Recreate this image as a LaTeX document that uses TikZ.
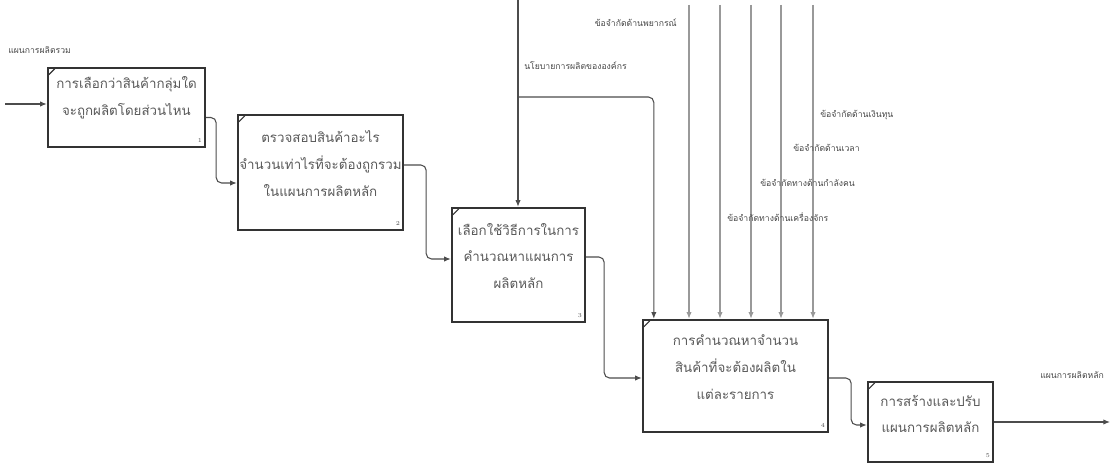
\documentclass[tikz,border=0pt]{standalone}
\usepackage{fontspec}
\newfontfamily\thaifont[Script=Thai]{Loma}
\usetikzlibrary{arrows.meta,calc}

\begin{document}
\begin{tikzpicture}[x=0.75pt,y=-0.75pt,
  every node/.style={font=\thaifont},
  act/.style={draw=black!80,line width=1.8pt,fill=white,inner sep=0pt},
  acttext/.style={align=center,text=black!65,inner sep=0pt,font=\thaifont\fontsize{10}{20}\selectfont},
  lbl/.style={text=black!72,inner sep=0pt,font=\thaifont\fontsize{6.5}{7}\selectfont},
  num/.style={inner sep=0pt,text=black!70,font=\fontsize{4.5}{5}\selectfont},
  cornermark/.style={draw=black!80,line width=0.9pt},
  flow/.style={draw=black!70,line width=0.8pt,rounded corners=4pt,-{Latex[length=5pt,width=4pt]}},
  ctrl/.style={draw=black!40,line width=1.5pt,-{Latex[length=5pt,width=4pt]}}]
  \useasboundingbox (0,0) rectangle (1117,470);

  % activity boxes
  \node[act,minimum width=117.75pt,minimum height=59.25pt] (a1) at (126.5,107.5) {};
  \node[act,minimum width=123.75pt,minimum height=86.25pt] (a2) at (320.5,172.5) {};
  \node[act,minimum width=99.75pt,minimum height=85.5pt] (a3) at (518.5,265) {};
  \node[act,minimum width=138.75pt,minimum height=84pt] (a4) at (735.5,376) {};
  \node[act,minimum width=93.75pt,minimum height=60pt] (a5) at (930.5,422) {};

  \node[acttext] (a1t) at ($(a1)+(0,-10)$) {การเลือกว่าสินค้ากลุ่มใด\\จะถูกผลิตโดยส่วนไหน};
  \node[acttext] (a2t) at ($(a2)+(0,-9)$) {ตรวจสอบสินค้าอะไร\\จำนวนเท่าไรที่จะต้องถูกรวม\\ในแผนการผลิตหลัก};
  \node[acttext] (a3t) at ($(a3)+(0,-9)$) {เลือกใช้วิธีการในการ\\คำนวณหาแผนการ\\ผลิตหลัก};
  \node[acttext] (a4t) at ($(a4)+(0,-9)$) {การคำนวณหาจำนวน\\สินค้าที่จะต้องผลิตใน\\แต่ละรายการ};
  \node[acttext] (a5t) at ($(a5)+(0,-8)$) {การสร้างและปรับ\\แผนการผลิตหลัก};

  \foreach \i in {1,...,5} {
    \node[num,anchor=south east] (n\i) at ($(a\i.south east)+(-4,-5)$) {\i};
    \draw[cornermark] ($(a\i.north west)+(2,8)$) -- ($(a\i.north west)+(8,2)$);
  }

  % input and output
  \coordinate (pin) at (5,104);
  \coordinate (pout) at (1110,422);
  \draw[flow] (pin) -- (pin -| a1.west);
  \node[lbl,anchor=west] (lin) at (8,50) {แผนการผลิตรวม};
  \draw[flow] (a5.east) -- (pout);
  \node[lbl,anchor=west] (lout) at (1040,375) {แผนการผลิตหลัก};

  % links between activities
  \draw[flow] ($(a1.east)+(0,10)$) -- ++(10,0) |- ($(a2.west)+(0,10.5)$);
  \draw[flow] ($(a2.east)+(0,-7.5)$) -- ++(22,0) |- ($(a3.west)+(0,-6)$);
  \draw[flow] ($(a3.east)+(0,-8)$) -- ++(18,0) |- ($(a4.west)+(0,2)$);
  \draw[flow] ($(a4.east)+(0,2)$) -- ++(22,0) |- ($(a5.west)+(0,3)$);

  % controls
  \coordinate (t0) at (518,0);
  \coordinate (br) at (518,97);
  \draw[flow] (t0) -- (t0 |- a3.north);
  \draw[flow] (br) -| ($(a4.north west)+(12,0)$);
  \node[lbl,anchor=west] (l0) at (524,66) {นโยบายการผลิตขององค์กร};

  \foreach \i/\x in {1/689,2/720,3/751,4/781,5/813} {
    \coordinate (k\i) at (\x,5);
    \draw[ctrl] (k\i) -- (k\i |- a4.north);
  }
  \node[lbl,anchor=east] (l1) at (677,23) {ข้อจำกัดด้านพยากรณ์};
  \node[lbl,anchor=west] (l2) at (727,217) {ข้อจำกัดทางด้านเครื่องจักร};
  \node[lbl,anchor=west] (l3) at (760,183) {ข้อจำกัดทางด้านกำลังคน};
  \node[lbl,anchor=west] (l4) at (793,148) {ข้อจำกัดด้านเวลา};
  \node[lbl,anchor=west] (l5) at (820,115) {ข้อจำกัดด้านเงินทุน};
\end{tikzpicture}
\end{document}
